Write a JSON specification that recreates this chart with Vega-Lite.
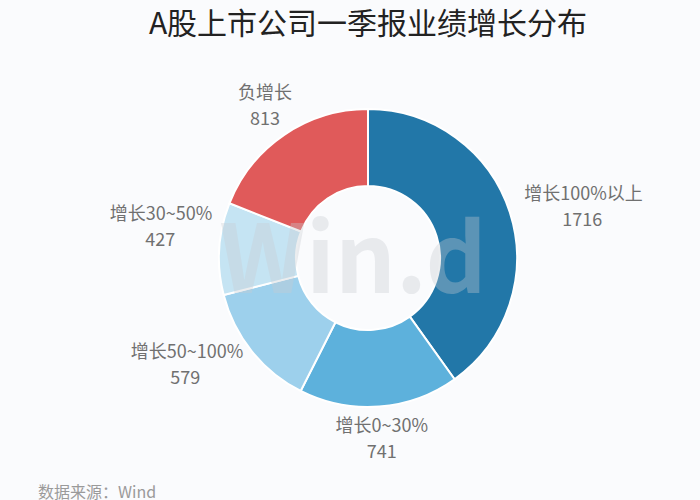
{
  "$schema": "https://vega.github.io/schema/vega-lite/v6.json",
  "background": "#fafbfd",
  "padding": {"left": 38, "right": 2, "top": 10, "bottom": 0},
  "title": {
    "text": "A股上市公司一季报业绩增长分布",
    "fontSize": 30,
    "fontWeight": "normal",
    "color": "#222222",
    "anchor": "middle",
    "offset": 18
  },
  "data": {
    "values": [
      {"cat": "增长100%以上", "count": 1716, "rank": 1},
      {"cat": "增长0~30%", "count": 741, "rank": 2},
      {"cat": "增长50~100%", "count": 579, "rank": 3},
      {"cat": "增长30~50%", "count": 427, "rank": 4},
      {"cat": "负增长", "count": 813, "rank": 5}
    ]
  },
  "vconcat": [
    {
      "width": 660,
      "height": 400,
      "title": {
        "text": "数据来源：Wind",
        "orient": "bottom",
        "anchor": "start",
        "fontSize": 16,
        "fontWeight": "normal",
        "color": "#9a9a9a",
        "offset": 23
      },
      "encoding": {
        "theta": {"field": "count", "type": "quantitative", "stack": true},
        "order": {"field": "rank", "type": "quantitative"}
      },
      "layer": [
        {
          "mark": {"type": "arc", "outerRadius": 149, "innerRadius": 72, "stroke": "#ffffff", "strokeWidth": 2},
          "encoding": {
            "color": {
              "field": "cat",
              "type": "nominal",
              "scale": {
                "domain": ["增长100%以上", "增长0~30%", "增长50~100%", "增长30~50%", "负增长"],
                "range": ["#2277a8", "#5db1dc", "#9dd0ec", "#c5e4f3", "#e05a5a"]
              },
              "legend": null
            }
          }
        },
        {
          "data": {"values": [{"wm": "Win.d"}]},
          "mark": {"type": "text", "fontSize": 95, "fontWeight": "bold", "color": "#c8ccd2", "opacity": 0.35, "dx": -15, "dy": 6},
          "encoding": {"text": {"field": "wm"}, "theta": null, "order": null}
        },
        {
          "mark": {"type": "text", "radius": 164, "dy": -13, "align": "left", "fontSize": 18, "color": "#707070"},
          "encoding": {"text": {"condition": {"test": "datum.rank == 1", "field": "cat"}, "value": ""}}
        },
        {
          "mark": {"type": "text", "radius": 164, "dy": 13, "dx": 58, "align": "center", "fontSize": 18, "color": "#707070"},
          "encoding": {"text": {"condition": {"test": "datum.rank == 1", "field": "count", "type": "quantitative"}, "value": ""}}
        },
        {
          "mark": {"type": "text", "radius": 160, "dy": -5, "align": "right", "fontSize": 18, "color": "#707070"},
          "encoding": {"text": {"condition": {"test": "datum.rank == 3", "field": "cat"}, "value": ""}}
        },
        {
          "mark": {"type": "text", "radius": 160, "dy": 21, "align": "center", "dx": -58, "fontSize": 18, "color": "#707070"},
          "encoding": {"text": {"condition": {"test": "datum.rank == 3", "field": "count", "type": "quantitative"}, "value": ""}}
        },
        {
          "mark": {"type": "text", "radius": 156, "dy": -33, "align": "right", "fontSize": 18, "color": "#707070"},
          "encoding": {"text": {"condition": {"test": "datum.rank == 4", "field": "cat"}, "value": ""}}
        },
        {
          "mark": {"type": "text", "radius": 156, "dy": -7, "align": "center", "dx": -52, "fontSize": 18, "color": "#707070"},
          "encoding": {"text": {"condition": {"test": "datum.rank == 4", "field": "count", "type": "quantitative"}, "value": ""}}
        },
        {
          "mark": {"type": "text", "radius": 183, "dy": -13, "align": "center", "fontSize": 18, "color": "#707070"},
          "encoding": {"text": {"condition": {"test": "datum.rank == 2 || datum.rank == 5", "field": "cat"}, "value": ""}}
        },
        {
          "mark": {"type": "text", "radius": 183, "dy": 13, "align": "center", "fontSize": 18, "color": "#707070"},
          "encoding": {"text": {"condition": {"test": "datum.rank == 2 || datum.rank == 5", "field": "count", "type": "quantitative"}, "value": ""}}
        }
      ]
    }
  ],
  "config": {
    "view": {"stroke": null},
    "font": "Noto Sans CJK SC"
  }
}
